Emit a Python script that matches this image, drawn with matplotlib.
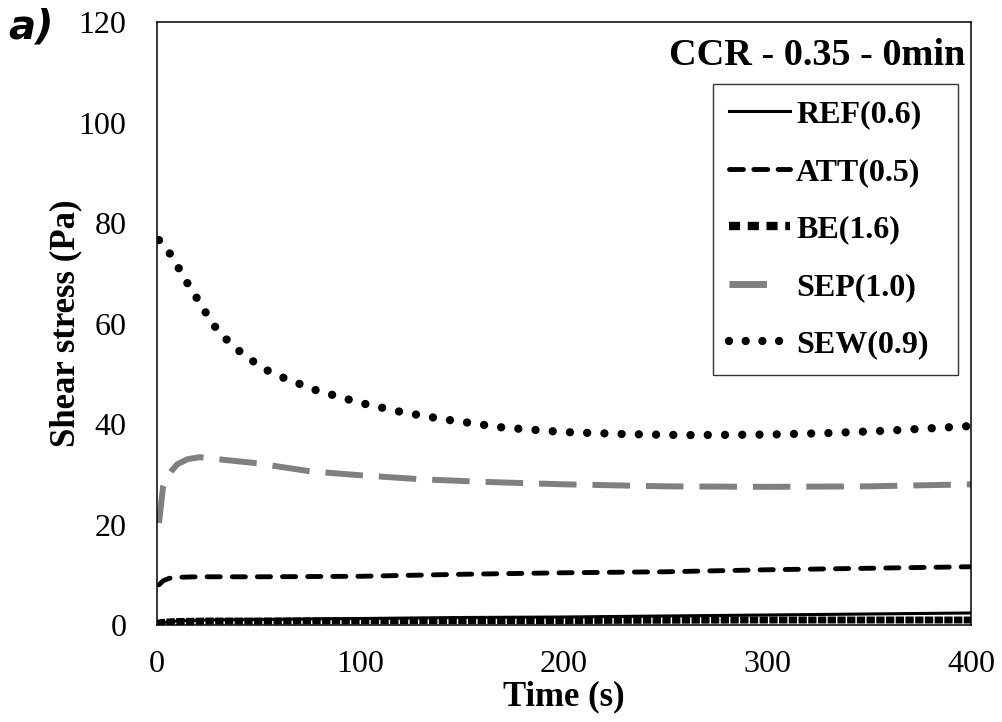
import numpy as np
import matplotlib
matplotlib.use("Agg")
import matplotlib.pyplot as plt
from matplotlib.lines import Line2D

plt.rcParams['font.family'] = ['Liberation Serif', 'DejaVu Serif']
plt.rcParams['lines.scale_dashes'] = False

# data
t_ref = [0, 2, 5, 10, 25, 50, 100, 150, 200, 250, 300, 350, 400]
ref = [0.1, 0.4, 0.6, 0.8, 1.0, 1.1, 1.3, 1.5, 1.6, 1.8, 2.0, 2.2, 2.4]

t_att = [1, 3, 6, 10, 20, 50, 100, 150, 200, 250, 300, 350, 400]
att = [8.0, 8.8, 9.3, 9.5, 9.6, 9.6, 9.7, 10.1, 10.4, 10.6, 11.0, 11.3, 11.6]

t_be = [0, 2, 5, 10, 25, 50, 100, 150, 200, 250, 300, 350, 400]
be = [0.3, 0.5, 0.6, 0.7, 0.8, 0.8, 0.85, 0.9, 0.9, 0.95, 1.0, 1.0, 1.0]

t_sep = [1, 2, 3, 5, 7, 10, 15, 21, 30, 49, 75, 100, 130, 160, 200, 250, 300, 350, 400]
sep = [20.3, 24.0, 27.5, 29.5, 30.6, 32.0, 33.0, 33.4, 33.0, 32.2, 30.6, 29.8,
       29.0, 28.5, 28.0, 27.6, 27.5, 27.6, 28.0]

t_sew = [1, 5, 10, 15, 20, 25, 30, 38, 45, 53, 61, 70, 79, 88, 100, 120, 140,
         170, 200, 230, 260, 300, 330, 360, 400]
sew = [76.6, 74.8, 71.5, 68.0, 64.8, 61.5, 58.5, 55.3, 53.1, 50.9, 49.4, 48.0,
       46.6, 45.6, 44.2, 42.4, 41.0, 39.3, 38.4, 38.0, 37.8, 37.9, 38.2, 38.7, 39.6]

labels = ['REF(0.6)', 'ATT(0.5)', 'BE(1.6)', 'SEP(1.0)', 'SEW(0.9)']

fig = plt.figure(figsize=(10.03, 7.22), dpi=100)
ax = fig.add_axes([0.1565, 0.1343, 0.8115, 0.8352])

ax.plot(t_ref, ref, color='black', lw=2.2)
ax.plot(t_att, att, color='black', lw=3.5, linestyle=(0, (9.5, 8.6)),
        dash_capstyle='round')
ax.plot(t_be, be, color='black', lw=5, linestyle=(0, (6, 1)),
        dash_capstyle='butt')
ax.plot(t_sep, sep, color='#808080', lw=4.3, linestyle=(0, (27, 11.5)),
        dash_capstyle='butt')
ax.plot(t_sew, sew, color='black', lw=6, linestyle=(0, (0.01, 12.4)),
        dash_capstyle='round')

ax.set_xlim(0, 400)
ax.set_ylim(0, 120)
ax.set_xticks(np.arange(0, 401, 100))
ax.set_yticks(np.arange(0, 121, 20))
ax.tick_params(axis='both', length=0, labelsize=23)
ax.tick_params(axis='x', pad=18)
ax.tick_params(axis='y', pad=22)
for s in ax.spines.values():
    s.set_linewidth(1.1)

ax.set_xlabel('Time (s)', fontsize=25, fontweight='bold', labelpad=1)
ax.set_ylabel('Shear stress (Pa)', fontsize=25, fontweight='bold', labelpad=-3)

ax.text(0.993, 0.945, 'CCR - 0.35 - 0min', transform=ax.transAxes,
        ha='right', va='center', fontsize=27.5, fontweight='bold')

handles = [
    Line2D([], [], color='black', lw=2.2),
    Line2D([], [], color='black', lw=3.5, linestyle=(0, (10, 7.5)), dash_capstyle='round'),
    Line2D([], [], color='black', lw=6, linestyle=(0, (8, 5.5)), dash_capstyle='butt'),
    Line2D([], [], color='#808080', lw=5, linestyle=(0, (27, 30)), dash_capstyle='butt'),
    Line2D([], [], color='black', lw=6, linestyle=(0, (0.01, 12)), dash_capstyle='round'),
]
leg = ax.legend(handles, labels, loc='upper right',
                bbox_to_anchor=(0.683, 0.406, 0.301, 0.491), mode='expand',
                borderaxespad=0, prop={'weight': 'bold', 'size': 23},
                frameon=True, fancybox=False, edgecolor='black',
                handlelength=1.9, handletextpad=0.2, labelspacing=0.88,
                borderpad=0.5)
leg.get_frame().set_linewidth(1.0)

fig.text(0.008, 0.962, 'a)', fontsize=29, fontweight='bold', style='italic',
         family='DejaVu Sans', ha='left', va='center')

fig.savefig('out.png', dpi=100)
